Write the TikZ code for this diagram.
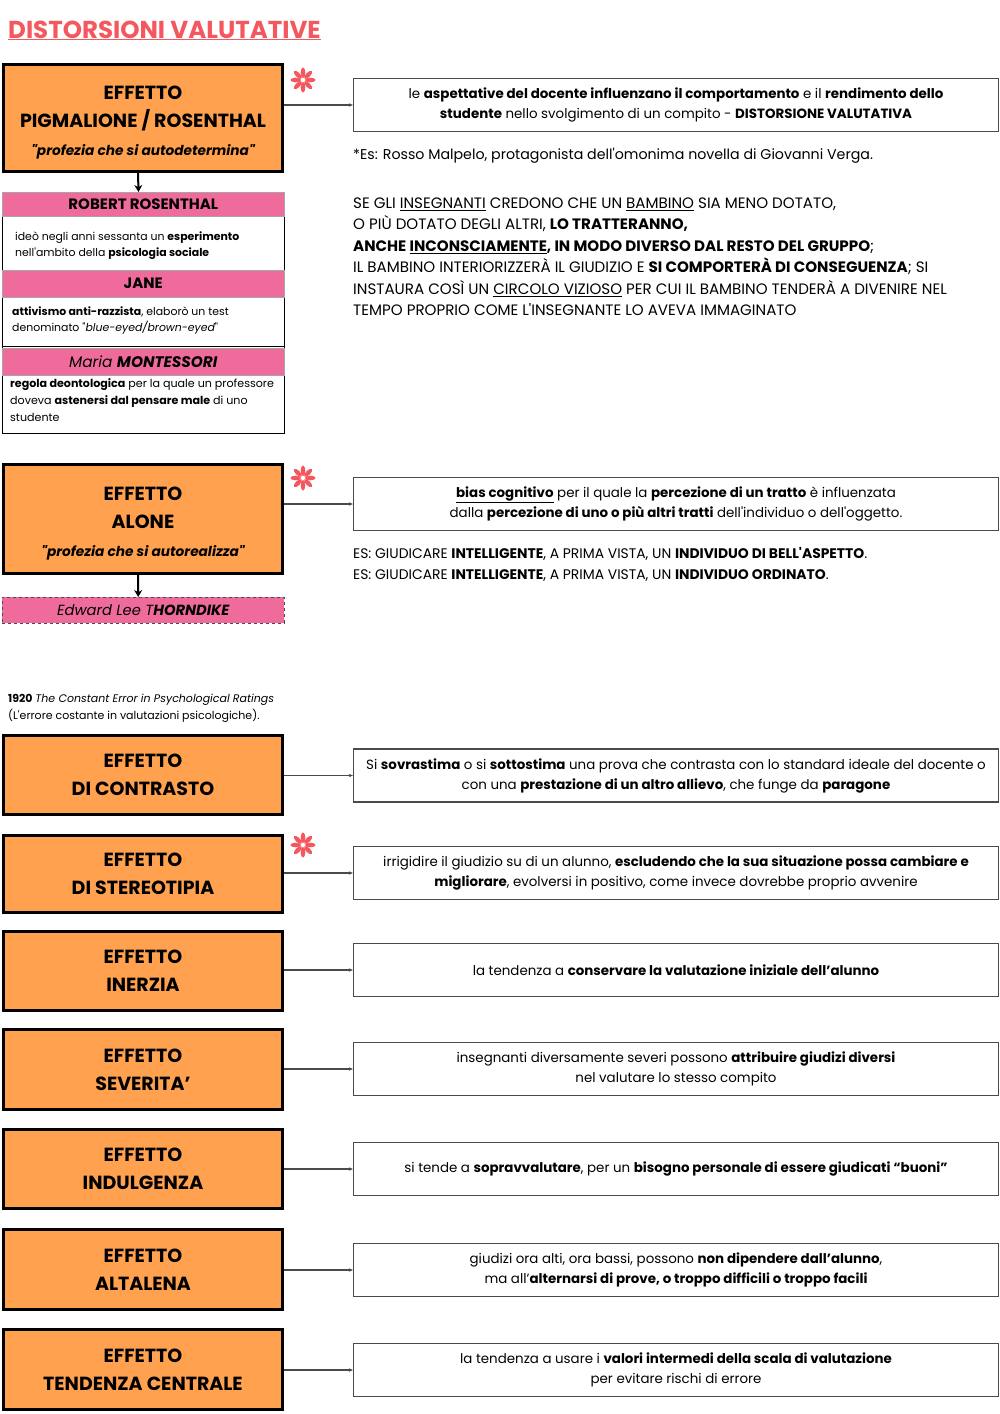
\documentclass[tikz,border=0pt]{standalone}
\usepackage{fontspec}
\setmainfont{Poppins}[Ligatures=TeXOff]
\usetikzlibrary{arrows.meta,calc}
\definecolor{orng}{HTML}{FFA14E}
\definecolor{pnk}{HTML}{EF6B9B}
\definecolor{coral}{HTML}{F4575E}
\definecolor{gline}{HTML}{4A4A4A}
\begin{document}
\begin{tikzpicture}[x=1pt,y=-1pt,
  effbox/.style={draw=black, line width=3pt, fill=orng, minimum width=279pt, inner sep=0pt, align=center, font=\bfseries\fontsize{19}{28}\selectfont},
  efftext/.style={inner sep=0pt, align=center, font=\bfseries\fontsize{19}{28}\selectfont},
  descbox/.style={draw=gline, line width=1.3pt, minimum width=645pt, minimum height=53pt, inner sep=0pt, align=center, font=\fontsize{13.4}{20}\selectfont},
  conn/.style={draw=gline, line width=1.2pt, -{Stealth[length=4pt,width=3.5pt]}},
  downarr/.style={draw=black, line width=2pt, -{Stealth[length=7pt,width=8pt]}},
  band/.style={fill=pnk, draw=black!35, line width=0.5pt, minimum width=282pt, inner sep=0pt, align=center, anchor=north west},
  ptext/.style={inner sep=0pt, align=left, anchor=north west},
  starflower/.pic={\foreach \a in {0,45,...,315} \fill[coral, rotate=\a] (0,7.3) ellipse [x radius=2.3, y radius=5.3];}
]
\useasboundingbox (0,0) rectangle (1000,1414);
\fill[white] (0,0) rectangle (1000,1414);

% title
\node[anchor=base west, inner sep=0pt, text=coral, font=\bfseries\fontsize{24.5}{28}\selectfont] (title) at (8,38) {\underline{DISTORSIONI VALUTATIVE}};

% ---------- orange boxes ----------
\node[effbox, minimum height=107pt] (e1) at (143,118) {};
\node[efftext] (e1t) at ($(e1.center)+(0,5)$) {EFFETTO\\PIGMALIONE / ROSENTHAL\\{\fontsize{13.7}{28}\selectfont\itshape "profezia che si autodetermina"}};
\node[effbox, minimum height=109pt] (e2) at (143,519) {};
\node[efftext] (e2t) at ($(e2.center)+(0,5)$) {EFFETTO\\ALONE\\{\fontsize{13.7}{28}\selectfont\itshape "profezia che si autorealizza"}};
\node[effbox, minimum height=79pt] (e3) at (143,775) {EFFETTO\\DI CONTRASTO};
\node[effbox, minimum height=77pt] (e4) at (143,874) {EFFETTO\\DI STEREOTIPIA};
\node[effbox, minimum height=79pt] (e5) at (143,971) {EFFETTO\\INERZIA};
\node[effbox, minimum height=80pt] (e6) at (143,1069.5) {EFFETTO\\SEVERITA’};
\node[effbox, minimum height=79pt] (e7) at (143,1169) {EFFETTO\\INDULGENZA};
\node[effbox, minimum height=80pt] (e8) at (143,1269.5) {EFFETTO\\ALTALENA};
\node[effbox, minimum height=80pt] (e9) at (143,1369.5) {EFFETTO\\TENDENZA CENTRALE};

% asterisks
\pic at (303,80) {starflower};
\pic at (303,478) {starflower};
\pic at (303,845) {starflower};

% ---------- description boxes ----------
\node[descbox] (d1) at (676,105) {le \textbf{aspettative del docente influenzano il comportamento} e il \textbf{rendimento dello}\\\textbf{studente} nello svolgimento di un compito - \textbf{DISTORSIONE VALUTATIVA}};
\node[descbox] (d2) at (676,504) {\textbf{\underline{bias cognitivo}} per il quale la \textbf{percezione di un tratto} è influenzata\\dalla \textbf{percezione di uno o più altri tratti} dell'individuo o dell'oggetto.};
\node[descbox] (d3) at (676,775.5) {Si \textbf{sovrastima} o si \textbf{sottostima} una prova che contrasta con lo standard ideale del docente o\\con una \textbf{prestazione di un altro allievo}, che funge da \textbf{paragone}};
\node[descbox] (d4) at (676,873) {irrigidire il giudizio su di un alunno, \textbf{escludendo che la sua situazione possa cambiare e}\\\textbf{migliorare}, evolversi in positivo, come invece dovrebbe proprio avvenire};
\node[descbox] (d5) at (676,970) {la tendenza a \textbf{conservare la valutazione iniziale dell’alunno}};
\node[descbox] (d6) at (676,1069) {insegnanti diversamente severi possono \textbf{attribuire giudizi diversi}\\nel valutare lo stesso compito};
\node[descbox] (d7) at (676,1169) {si tende a \textbf{sopravvalutare}, per un \textbf{bisogno personale di essere giudicati “buoni”}};
\node[descbox] (d8) at (676,1270) {giudizi ora alti, ora bassi, possono \textbf{non dipendere dall’alunno},\\ma all’\textbf{alternarsi di prove, o troppo difficili o troppo facili}};
\node[descbox] (d9) at (676,1370) {la tendenza a usare i \textbf{valori intermedi della scala di valutazione}\\per evitare rischi di errore};

% connectors
\foreach \i in {1,...,9} \draw[conn] (e\i.east |- d\i.west) -- (d\i.west);

% ---------- notes ----------
\node[ptext, font=\fontsize{14.2}{20}\selectfont] (es1) at (353,147.5) {*Es: Rosso Malpelo, protagonista dell'omonima novella di Giovanni Verga.};
\node[ptext, font=\fontsize{15.1}{21.5}\selectfont] (par) at (353,197.5) {SE GLI \underline{INSEGNANTI} CREDONO CHE UN \underline{BAMBINO} SIA MENO DOTATO,\\
O PIÙ DOTATO DEGLI ALTRI, \textbf{LO TRATTERANNO,}\\
\textbf{ANCHE \underline{INCONSCIAMENTE}, IN MODO DIVERSO DAL RESTO DEL GRUPPO};\\
IL BAMBINO INTERIORIZZERÀ IL GIUDIZIO E \textbf{SI COMPORTERÀ DI CONSEGUENZA}; SI\\
INSTAURA COSÌ UN \underline{CIRCOLO VIZIOSO} PER CUI IL BAMBINO TENDERÀ A DIVENIRE NEL\\
TEMPO PROPRIO COME L'INSEGNANTE LO AVEVA IMMAGINATO};
\node[ptext, font=\fontsize{13.9}{21}\selectfont] (es2) at (353,547) {ES: GIUDICARE \textbf{INTELLIGENTE}, A PRIMA VISTA, UN \textbf{INDIVIDUO DI BELL'ASPETTO}.\\
ES: GIUDICARE \textbf{INTELLIGENTE}, A PRIMA VISTA, UN \textbf{INDIVIDUO ORDINATO}.};

% ---------- pink panel ----------
\node[draw=black, line width=1pt, minimum width=282pt, minimum height=241pt, inner sep=0pt, anchor=north west] (panel) at (2,192) {};
\node[band, minimum height=24pt, font=\bfseries\fontsize{15}{17}\selectfont] (rr) at (2,192) {ROBERT ROSENTHAL};
\node[ptext, font=\fontsize{10.9}{16.5}\selectfont] (rrt) at (15,231.5) {ideò negli anni sessanta un \textbf{esperimento}\\nell'ambito della \textbf{psicologia sociale}};
\node[band, minimum height=27pt, font=\bfseries\fontsize{15}{17}\selectfont] (jane) at (2,270) {JANE};
\node[ptext, font=\fontsize{10.9}{16.5}\selectfont] (janet) at (12,306.5) {\textbf{attivismo anti-razzista}, elaborò un test\\denominato "\textit{blue-eyed/brown-eyed}"};
\draw[black, line width=0.9pt] (panel.west |- 0,346.5) -- (panel.east |- 0,346.5);
\node[band, minimum height=27pt, font=\fontsize{15.3}{17}\selectfont\itshape] (mont) at (2,348) {Maria \textbf{MONTESSORI}};
\node[ptext, font=\fontsize{11.1}{17}\selectfont] (montt) at (10,378.5) {\textbf{regola deontologica} per la quale un professore\\doveva \textbf{astenersi dal pensare male} di uno\\studente};

\node[band, draw=gline, dashed, minimum height=26pt, font=\fontsize{14.7}{17}\selectfont\itshape] (thd) at (2,597) {Edward Lee T\textbf{HORNDIKE}};

\draw[downarr] ([xshift=-5pt]e1.south) -- ([xshift=-5pt]panel.north);
\draw[downarr] ([xshift=-5pt]e2.south) -- ([xshift=-5pt]thd.north);

\node[ptext, font=\fontsize{11}{17}\selectfont] (ref) at (8,693.5) {\textbf{1920} \textit{The Constant Error in Psychological Ratings}\\(L'errore costante in valutazioni psicologiche).};
\end{tikzpicture}
\end{document}
